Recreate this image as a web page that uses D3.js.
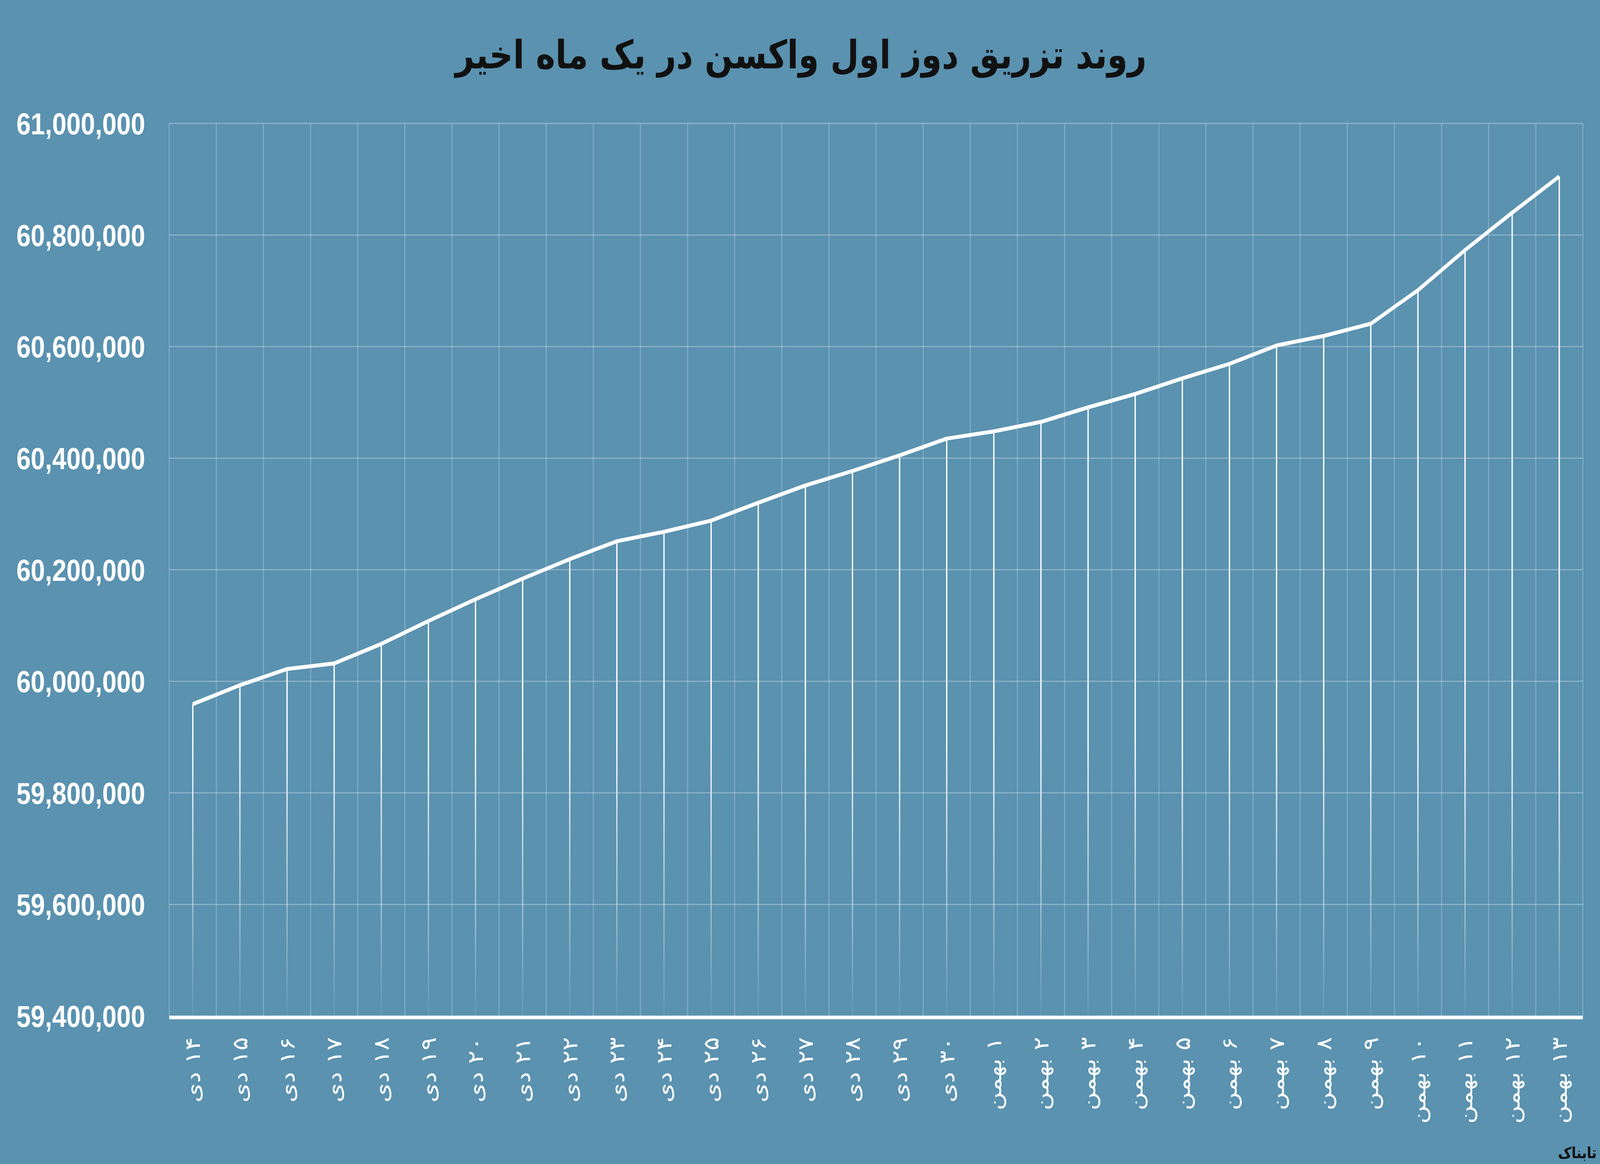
<!DOCTYPE html>
<html><head><meta charset="utf-8">
<script src="https://cdn.jsdelivr.net/npm/d3@7"></script>
<style>html,body{margin:0;padding:0;overflow:hidden;background:#5a92b0}svg{display:block;width:100vw;height:100vh}</style></head>
<body><svg id="c" viewBox="0 0 4850 2980" preserveAspectRatio="none"></svg>
<script>
const days = ["۱۴","۱۵","۱۶","۱۷","۱۸","۱۹","۲۰","۲۱","۲۲","۲۳","۲۴","۲۵","۲۶","۲۷","۲۸","۲۹","۳۰","۱","۲","۳","۴","۵","۶","۷","۸","۹","۱۰","۱۱","۱۲","۱۳"];
const months = ["دی","دی","دی","دی","دی","دی","دی","دی","دی","دی","دی","دی","دی","دی","دی","دی","دی","بهمن","بهمن","بهمن","بهمن","بهمن","بهمن","بهمن","بهمن","بهمن","بهمن","بهمن","بهمن","بهمن"];
const values = [59959000,59993000,60022000,60032000,60067000,60108000,60147000,60184000,60219000,60251000,60268000,60288000,60320000,60351000,60377000,60405000,60435000,60448000,60465000,60491000,60515000,60543000,60569000,60602000,60619000,60641000,60701000,60773000,60840000,60905000];
const yTicks = [59400000,59600000,59800000,60000000,60200000,60400000,60600000,60800000,61000000];
const title = "روند تزریق دوز اول واکسن در یک ماه اخیر";

const svg = d3.select("#c");
svg.append("rect").attr("width",4850).attr("height",2980).attr("fill","#5a92b0");
const L=513,R=4798,T=316,B=2601;
const idx = d3.range(values.length);
const x = d3.scaleBand().domain(idx).range([L,R]);
const y = d3.scaleLinear().domain([59400000,61000000]).range([B,T]);

const defs = svg.append("defs");
const g = defs.append("linearGradient").attr("id","fade").attr("gradientUnits","userSpaceOnUse").attr("x1",0).attr("x2",0).attr("y1",1900).attr("y2",B);
g.append("stop").attr("offset",0).attr("stop-color","#fff").attr("stop-opacity",1);
g.append("stop").attr("offset",1).attr("stop-color","#fff").attr("stop-opacity",0.05);

svg.append("g").selectAll("line").data(yTicks).join("line")
 .attr("x1",L).attr("x2",R).attr("y1",d=>y(d)).attr("y2",d=>y(d))
 .attr("stroke","#fff").attr("stroke-opacity",0.3).attr("stroke-width",3);
svg.append("g").selectAll("line").data(d3.range(values.length+1)).join("line")
 .attr("x1",d=>L+d*x.step()).attr("x2",d=>L+d*x.step()).attr("y1",T).attr("y2",B)
 .attr("stroke","#fff").attr("stroke-opacity",0.25).attr("stroke-width",3);

svg.append("line").attr("x1",L).attr("x2",R).attr("y1",B+4).attr("y2",B+4).attr("stroke","#fff").attr("stroke-width",9);

svg.append("g").selectAll("text").data(yTicks).join("text")
 .attr("x",440).attr("y",d=>y(d)).attr("dy","0.36em").attr("text-anchor","end")
 .attr("font-family","Liberation Sans Narrow, Arial Narrow, Liberation Sans").attr("font-weight","bold")
 .attr("font-size",78).attr("fill","#fff").text(d=>d3.format(",")(d));

const cx = i=>x(i)+x.bandwidth()/2;
svg.append("g").selectAll("line").data(idx).join("line")
 .attr("x1",cx).attr("x2",cx).attr("y1",i=>y(values[i])).attr("y2",B)
 .attr("stroke","url(#fade)").attr("stroke-width",4);

svg.append("path").datum(idx)
 .attr("d",d3.line().x(cx).y(i=>y(values[i])))
 .attr("fill","none").attr("stroke","#fff").attr("stroke-width",10).attr("stroke-linejoin","round");

svg.append("g").selectAll("text").data(idx).join("text")
 .attr("transform",i=>`translate(${cx(i)},2655) rotate(-90)`)
 .attr("direction","rtl").attr("text-anchor","start").attr("dy","0.35em")
 .attr("font-family","DejaVu Sans").attr("font-size",64).attr("fill","#fff")
 .text(i=>days[i]+" "+months[i]);

svg.append("text").attr("x",2428).attr("y",175).attr("text-anchor","middle")
 .attr("font-family","DejaVu Sans").attr("font-weight","bold").attr("font-size",100).attr("fill","#111")
 .text(title);

svg.append("text").attr("x",4840).attr("y",2965).attr("text-anchor","end")
 .attr("font-family","DejaVu Sans").attr("font-weight","bold").attr("font-size",40).attr("fill","#111").text("تابناک");
</script></body></html>
